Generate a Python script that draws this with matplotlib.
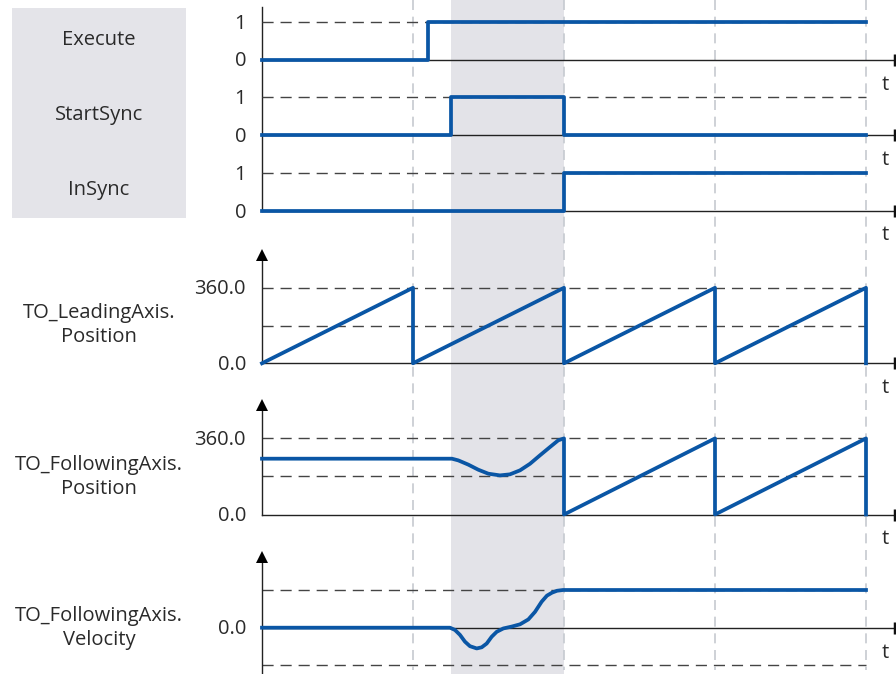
import matplotlib.pyplot as plt
from matplotlib.patches import Rectangle

plt.rcParams['font.family'] = ['Open Sans', 'DejaVu Sans']

# ---- signal data (time in leading-axis cycles) ----
execute_t = [0, 1.10, 4.0]
execute_v = [0, 1, 1]

startsync_t = [0, 1.25, 2.0, 4.0]
startsync_v = [0, 1, 0, 0]

insync_t = [0, 2.0, 4.0]
insync_v = [0, 1, 1]

leading_t = [0, 1, 1, 2, 2, 3, 3, 4, 4]
leading_v = [0, 360, 0, 360, 0, 360, 0, 360, 0]

following_t = [0, 1.258, 1.30, 1.366, 1.432, 1.499, 1.576, 1.642, 1.709,
               1.775, 1.841, 1.907, 1.962, 2.0, 2.0, 3, 3, 4, 4]
following_v = [264, 264, 256, 236, 212, 193, 185, 190, 209,
               240, 280, 319, 351, 360, 0, 360, 0, 360, 0]

velocity_t = [0, 1.245, 1.278, 1.311, 1.344, 1.377, 1.422, 1.455, 1.488, 1.521,
              1.554, 1.598, 1.654, 1.709, 1.764, 1.808, 1.852, 1.887, 1.921,
              1.954, 1.993, 4.0]
velocity_v = [0, 0, -0.06, -0.19, -0.37, -0.49, -0.55, -0.52, -0.42, -0.24,
              -0.11, -0.02, 0.03, 0.09, 0.22, 0.42, 0.69, 0.85, 0.93,
              0.98, 1.0, 1.0]

sync_window = (1.25, 2.0)
cycle_marks = [1, 2, 3, 4]

BLUE = '#0a56a5'
TXT = '#2a2a2a'
FS = 14.5
W, H = 896, 674
X0, PX = 262, 151.0          # pixel of t=0, pixels per cycle
XLIM = (-X0 / PX, (W - X0) / PX)
T_END = (893 - X0) / PX      # end of time axis
T_LBL = (885 - X0) / PX
T_TICK = (246 - X0) / PX

fig = plt.figure(figsize=(W / 100, H / 100), dpi=100)

# background axes in pixel rows
bg = fig.add_axes([0, 0, 1, 1])
bg.set_xlim(*XLIM)
bg.set_ylim(H, 0)
bg.axis('off')
bg.axvspan(*sync_window, color='#e3e3e8', lw=0, zorder=0)
for t in cycle_marks:
    bg.plot([t, t], [0, 670], color='#c6cad0', lw=1.2, dashes=(6, 4), zorder=1)
bg.add_patch(Rectangle(((12 - X0) / PX, 8), 174 / PX, 210, color='#e4e4e9', lw=0, zorder=0))
bg.plot([0, 0], [7, 210.5], color='#222222', lw=1, zorder=2)

for name, y in [('Execute', 40), ('StartSync', 115), ('InSync', 190)]:
    bg.text((99 - X0) / PX, y, name, ha='center', va='center', fontsize=FS, color=TXT)
for name, y in [('TO_LeadingAxis.\nPosition', 325), ('TO_FollowingAxis.\nPosition', 477),
                ('TO_FollowingAxis.\nVelocity', 628)]:
    bg.text((99 - X0) / PX, y, name, ha='center', va='center', fontsize=FS,
            color=TXT, linespacing=1.3)


def panel(zero_px, unit_px, scale):
    """Full-figure overlay whose value 0 sits at zero_px and value `scale` at unit_px."""
    ax = fig.add_axes([0, 0, 1, 1])
    ax.patch.set_alpha(0)
    ax.axis('off')
    u = scale / (zero_px - unit_px)
    ax.set_xlim(*XLIM)
    ax.set_ylim(-(H - zero_px) * u, zero_px * u)
    # time axis
    ax.plot([0, T_END], [0, 0], color='#222222', lw=1, zorder=2)
    ax.plot([(W - 1 - X0) / PX], [0], marker='|', ms=9, mew=2.5, color='#111111')
    ax.text(T_LBL, -25 * u, 't', ha='center', va='center', fontsize=FS, color=TXT)
    return ax, u


def dashed(ax, levels):
    for lv in levels:
        ax.plot([0, 4], [lv, lv], color='#444444', lw=1, dashes=(8, 5), zorder=1)


def y_arrow(ax, u, top_px_above, bottom):
    tip = top_px_above * u
    ax.plot([0, 0], [bottom, tip - 4 * u], color='#222222', lw=1, zorder=2)
    ax.plot([0], [tip - 5 * u], marker='^', ms=9, color='black', mew=0, zorder=3)


# bit signals
for sig_t, sig_v, zero_px in [(execute_t, execute_v, 59.5),
                              (startsync_t, startsync_v, 135),
                              (insync_t, insync_v, 210.5)]:
    ax, u = panel(zero_px, zero_px - 37.7, 1)
    dashed(ax, [1])
    ax.step(sig_t, sig_v, where='post', color=BLUE, lw=2.7, zorder=4)
    ax.text(T_TICK, 1 - 2 * u, '1', ha='right', va='center', fontsize=FS, color=TXT)
    ax.text(T_TICK, -2 * u, '0', ha='right', va='center', fontsize=FS, color=TXT)

# leading axis position
ax, u = panel(363.3, 287.8, 360)
dashed(ax, [360, 180])
y_arrow(ax, u, 363.3 - 250, 0)
ax.plot(leading_t, leading_v, color=BLUE, lw=2.7, zorder=4)
ax.text(T_TICK, 360 - 1.5 * u, '360.0', ha='right', va='center', fontsize=FS, color=TXT)
ax.text(T_TICK, -1.5 * u, '0.0', ha='right', va='center', fontsize=FS, color=TXT)

# following axis position
ax, u = panel(514.5, 438.4, 360)
dashed(ax, [360, 180])
y_arrow(ax, u, 514.5 - 400, 0)
ax.plot(following_t, following_v, color=BLUE, lw=2.7, zorder=4, solid_joinstyle='round')
ax.text(T_TICK, 360 - 1.5 * u, '360.0', ha='right', va='center', fontsize=FS, color=TXT)
ax.text(T_TICK, -1.5 * u, '0.0', ha='right', va='center', fontsize=FS, color=TXT)

# following axis velocity
ax, u = panel(627.7, 590, 1)
dashed(ax, [1, -1])
y_arrow(ax, u, 627.7 - 552, -(H - 627.7) * u)
ax.plot(velocity_t, velocity_v, color=BLUE, lw=2.7, zorder=4, solid_joinstyle='round')
ax.text(T_TICK, -1.5 * u, '0.0', ha='right', va='center', fontsize=FS, color=TXT)

fig.savefig('out.png', dpi=100)
